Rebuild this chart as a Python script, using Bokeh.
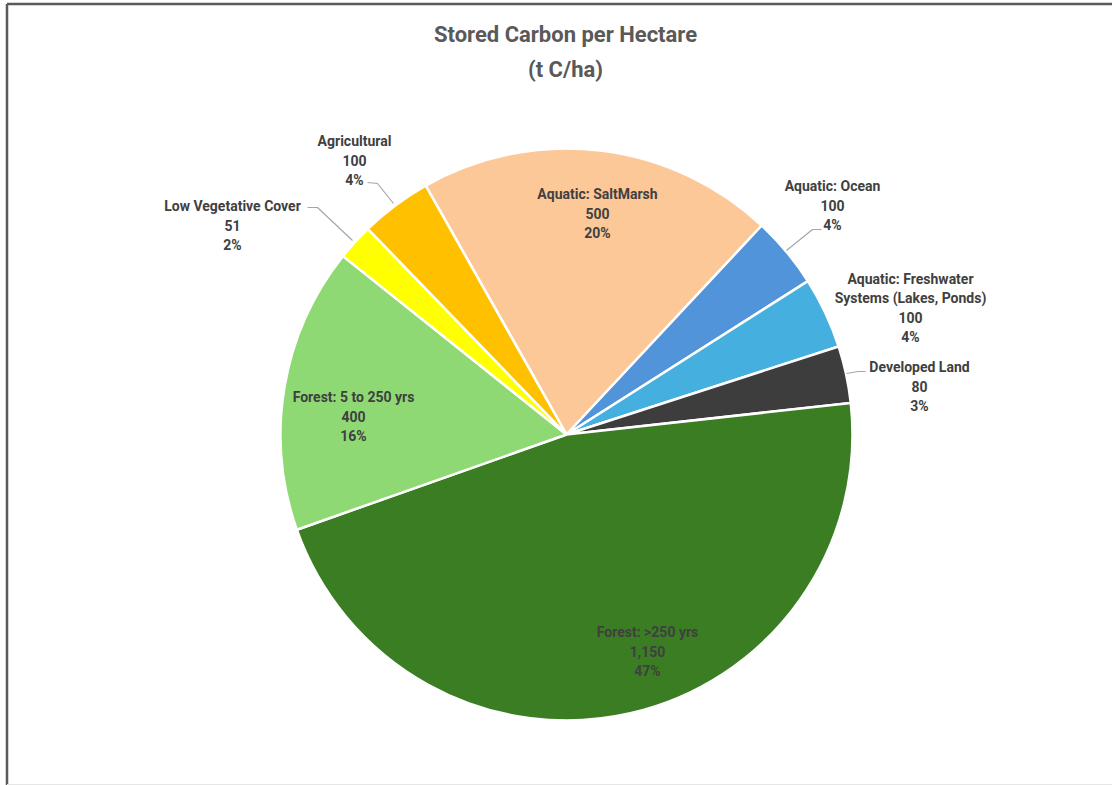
import math
from bokeh.plotting import figure
from bokeh.models import ColumnDataSource, Range1d
from bokeh.core.properties import value
from bokeh.embed import file_html
from bokeh.resources import INLINE

# ---- data (clockwise from the first slice) ----
categories = ["Aquatic: SaltMarsh", "Aquatic: Ocean",
              "Aquatic: Freshwater\nSystems (Lakes, Ponds)", "Developed Land",
              "Forest: >250 yrs", "Forest: 5 to 250 yrs",
              "Low Vegetative Cover", "Agricultural"]
values = [500, 100, 100, 80, 1150, 400, 51, 100]
pct_labels = ["20%", "4%", "4%", "3%", "47%", "16%", "2%", "4%"]
colors = ["#FDC898", "#5294DA", "#45B0E0", "#3D3D3D",
          "#3A7D23", "#8ED973", "#FFFF00", "#FFC000"]

W, H = 1112, 785
CX, CY, R = 566, 434, 286          # pie centre / radius (pixels from top-left)
FIRST_ANGLE = -29.5                 # degrees clockwise from 12 o'clock

def Y(py):
    return H - py

# label anchor (centre x, first-line y) in page pixels
label_pos = [(597, 193), (832, 185), (910, 278), (919, 366),
             (647, 631), (353, 396), (232, 205), (354, 140)]
leaders = {1: [(821, 229), (812, 229), (786, 250)],
           3: [(865, 371), (858, 371), (846, 373)],
           6: [(307, 207), (317, 207), (352, 240)],
           7: [(367, 182), (377, 183), (393, 203)]}

p = figure(width=W, height=H, x_range=Range1d(0, W), y_range=Range1d(0, H),
           toolbar_location=None, output_backend="svg", min_border=0)
p.axis.visible = False
p.grid.visible = False
p.outline_line_color = None
p.background_fill_color = "white"
p.border_fill_color = "white"

total = float(sum(values))
starts, ends = [], []
cum = 0.0
for v in values:
    a0 = FIRST_ANGLE + cum / total * 360.0
    cum += v
    a1 = FIRST_ANGLE + cum / total * 360.0
    starts.append(math.radians(90 - a1))
    ends.append(math.radians(90 - a0))

src = ColumnDataSource(dict(start=starts, end=ends, color=colors,
                            cat=categories, val=values))
p.wedge(x=CX, y=Y(CY), radius=R, start_angle="start", end_angle="end",
        fill_color="color", line_color="white", line_width=2.5, source=src)

# leader lines
for i, pts in leaders.items():
    p.line([q[0] for q in pts], [Y(q[1]) for q in pts],
           line_color="#A6A6A6", line_width=1.2)

# labels
tx, ty, tt = [], [], []
LH = 19.5
for i, cat in enumerate(categories):
    lines = cat.split("\n") + [f"{values[i]:,}", pct_labels[i]]
    x0, y0 = label_pos[i]
    for k, s in enumerate(lines):
        tx.append(x0)
        ty.append(Y(y0 + k * LH))
        tt.append(s)
p.text(x=tx, y=ty, text=tt, text_font=value("Roboto"), text_font_style="bold",
       text_font_size="14px", text_color="#404040", text_align="center",
       text_baseline="middle")

# title
p.text(x=[565, 565], y=[Y(34), Y(69)],
       text=["Stored Carbon per Hectare", "(t C/ha)"],
       text_font=value("Roboto"), text_font_style="bold", text_font_size="22px",
       text_color="#595959", text_align="center", text_baseline="middle")

# frame (top / left dark, bottom faint)
p.line([6.5, W], [Y(3.5), Y(3.5)], line_color="#5A5A5A", line_width=2.5)
p.line([6.5, 6.5], [Y(3.5), 0], line_color="#5A5A5A", line_width=2.5)
p.line([6.5, W], [Y(784), Y(784)], line_color="#E6E6E6", line_width=1)

open("out.html", "w").write(file_html(p, INLINE))
